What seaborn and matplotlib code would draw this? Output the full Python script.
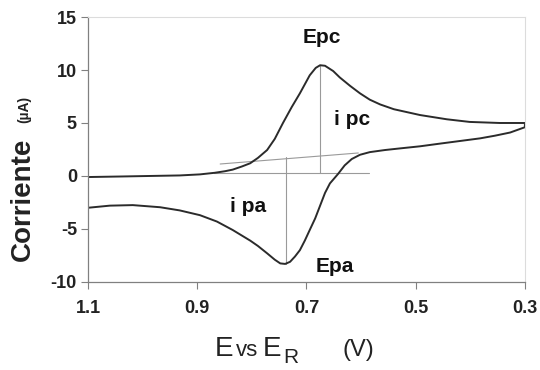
import matplotlib
matplotlib.use("Agg")
import matplotlib.pyplot as plt
import seaborn as sns
import pandas as pd

# Cyclic voltammogram, forward (cathodic) scan 1.1 -> 0.3 V
E_fwd = [1.100, 1.041, 0.987, 0.932, 0.895, 0.868, 0.849, 0.835, 0.818, 0.803,
         0.789, 0.772, 0.758, 0.743, 0.727, 0.712, 0.694, 0.683, 0.675, 0.666,
         0.651, 0.639, 0.620, 0.602, 0.584, 0.565, 0.540, 0.492, 0.443, 0.401,
         0.346, 0.300]
I_fwd = [-0.10, -0.05, 0.00, 0.05, 0.15, 0.30, 0.45, 0.60, 0.90, 1.20,
         1.70, 2.45, 3.50, 5.00, 6.50, 7.80, 9.50, 10.20, 10.45, 10.40,
         9.90, 9.30, 8.50, 7.80, 7.20, 6.75, 6.30, 5.75, 5.35, 5.10,
         5.00, 5.00]
# reverse (anodic) scan 0.3 -> 1.1 V
E_rev = [0.300, 0.327, 0.355, 0.382, 0.419, 0.456, 0.492, 0.529, 0.556, 0.584,
         0.602, 0.617, 0.630, 0.642, 0.657, 0.666, 0.675, 0.684, 0.694, 0.703,
         0.712, 0.721, 0.730, 0.739, 0.748, 0.758, 0.772, 0.789, 0.803, 0.835,
         0.864, 0.895, 0.932, 0.968, 1.018, 1.060, 1.100]
I_rev = [4.60, 4.10, 3.80, 3.55, 3.30, 3.05, 2.80, 2.60, 2.45, 2.25,
         2.00, 1.60, 1.00, 0.20, -0.70, -1.60, -2.80, -4.00, -5.10, -6.10,
         -7.00, -7.60, -8.10, -8.30, -8.25, -7.90, -7.30, -6.60, -6.10, -5.10,
         -4.30, -3.70, -3.25, -2.95, -2.75, -2.80, -3.00]

# construction lines
base_c_E = [0.870, 0.585]   # horizontal baseline for ipc
base_c_I = [0.30, 0.30]
base_a_E = [0.858, 0.605]   # sloped baseline for ipa
base_a_I = [1.13, 2.17]
ipc_E = [0.675, 0.675]
ipc_I = [0.30, 10.45]
ipa_E = [0.738, 0.738]
ipa_I = [1.75, -8.30]

x_ticks = [1.1, 0.9, 0.7, 0.5, 0.3]
x_ticklabels = ["1.1", "0.9", "0.7", "0.5", "0.3"]
y_ticks = [-10, -5, 0, 5, 10, 15]
y_ticklabels = ["-10", "-5", "0", "5", "10", "15"]

sns.set_theme(style="white")
plt.rcParams["font.family"] = ["Liberation Sans", "DejaVu Sans"]

df = pd.DataFrame({"E": E_fwd + E_rev, "I": I_fwd + I_rev})

fig = plt.figure(figsize=(5.4, 3.7), dpi=100)
ax = fig.add_axes([0.163, 0.238, 0.809, 0.716])

grey = "#9a9a9a"
ax.plot(base_c_E, base_c_I, color=grey, lw=0.8)
ax.plot(base_a_E, base_a_I, color=grey, lw=0.8)
ax.plot(ipc_E, ipc_I, color=grey, lw=0.8)
ax.plot(ipa_E, ipa_I, color=grey, lw=0.8)

sns.lineplot(data=df, x="E", y="I", sort=False, estimator=None,
             color="#2b2b2b", lw=1.4, ax=ax)

ax.set_xlim(1.1, 0.3)
ax.set_ylim(-10, 15)
ax.set_xticks(x_ticks)
ax.set_xticklabels(x_ticklabels, fontweight="bold", fontsize=13, color="#222222")
ax.set_yticks(y_ticks)
ax.set_yticklabels(y_ticklabels, fontweight="bold", fontsize=13, color="#222222")
ax.tick_params(axis="both", direction="out", length=5, width=0.8, color="#808080")
ax.tick_params(axis="x", bottom=True, pad=8)
ax.tick_params(axis="y", left=True, pad=3)

for s in ["left", "bottom"]:
    ax.spines[s].set_color("#808080")
    ax.spines[s].set_linewidth(0.9)
for s in ["top", "right"]:
    ax.spines[s].set_color("#dcdcdc")
    ax.spines[s].set_linewidth(0.8)

ax.set_xlabel("")
ax.set_ylabel("")

kw = dict(fontweight="bold", fontsize=15, color="#111111", ha="center", va="center")
ax.text(0.672, 13.1, "Epc", **kw)
ax.text(0.617, 5.3, "i pc", **kw)
ax.text(0.807, -2.9, "i pa", **kw)
ax.text(0.648, -8.5, "Epa", **kw)

# y label: "Corriente (µA)"
fig.text(0.043, 0.462, "Corriente", rotation=90, fontsize=20, fontweight="bold",
         color="#222222", ha="center", va="center")
fig.text(0.045, 0.703, "(µA)", rotation=90, fontsize=10, fontweight="bold",
         color="#222222", ha="center", va="center")

# x label: "E vs E_R   (V)"
yl = 0.038
fig.text(0.398, yl, "E", fontsize=20, color="#222222", ha="left", va="baseline")
fig.text(0.437, yl, "vs", fontsize=16, color="#222222", ha="left", va="baseline")
fig.text(0.487, yl, "E", fontsize=20, color="#222222", ha="left", va="baseline")
fig.text(0.525, yl - 0.02, "R", fontsize=15, color="#222222", ha="left", va="baseline")
fig.text(0.634, yl, "(V)", fontsize=17, color="#222222", ha="left", va="baseline")

fig.savefig("out.png", dpi=100)
